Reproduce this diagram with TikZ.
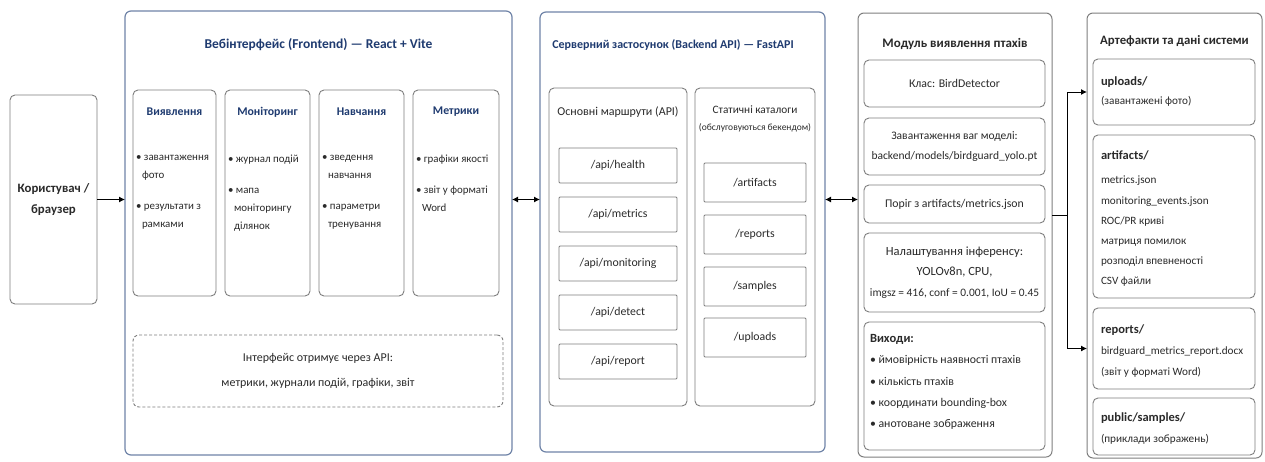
\documentclass[tikz,border=0pt]{standalone}
\usepackage{fontspec}
\setmainfont{Carlito}
\usetikzlibrary{arrows.meta}
\definecolor{navy}{HTML}{1F3B70}
\definecolor{txt}{HTML}{2A2A2A}
\definecolor{bluebd}{HTML}{7084A8}
\definecolor{graybd}{HTML}{7E7E7E}
\newcommand\fs[2]{\fontsize{#1pt}{#2pt}\selectfont}
\tikzset{
  outerblue/.style={draw=bluebd, line width=1.2pt, rounded corners=6pt},
  outergray/.style={draw=graybd, line width=1pt, rounded corners=6pt},
  innerbox/.style={draw=graybd, line width=0.9pt, rounded corners=5pt},
  routebox/.style={draw=graybd, line width=0.9pt, rounded corners=1pt, font=\fs{11.8}{14}},
  dashbox/.style={draw=graybd, line width=0.9pt, dash pattern=on 3pt off 2pt, rounded corners=6pt},
  navytitle/.style={font=\bfseries\fs{13.5}{16}, text=navy},
  fhead/.style={font=\bfseries\fs{11.8}{14}, text=navy},
  bullist/.style={anchor=north west, align=left, font=\fs{10.9}{18}},
  arthead/.style={anchor=west, font=\bfseries\fs{12.5}{15}},
  artlist/.style={anchor=west, align=left, font=\fs{11.2}{20.2}},
  conn/.style={line width=1pt, draw=black},
  arr/.style={conn, -{Latex[length=6pt,width=6pt]}},
  arrb/.style={conn, {Latex[length=6pt,width=6pt]}-{Latex[length=6pt,width=6pt]}},
}
\begin{document}
\begin{tikzpicture}[x=1pt,y=-1pt, every node/.style={inner sep=0pt, outer sep=0pt, text=txt}]
\useasboundingbox (0,0) rectangle (1265,461);
\fill[white] (0,0) rectangle (1265,461);

% user
\node[innerbox, minimum width=87pt, minimum height=209pt, align=center, font=\bfseries\fs{12.8}{21}] (user) at (53.5,199.5) {Користувач /\\браузер};

% frontend
\node[outerblue, minimum width=387pt, minimum height=444pt] (fe) at (318.5,233) {};
\node[navytitle] (fetitle) at (318.5,45) {Вебінтерфейс (Frontend) — React + Vite};
\node[innerbox, minimum width=83pt, minimum height=206pt] (f1) at (174.5,193) {};
\node[innerbox, minimum width=85pt, minimum height=206pt] (f2) at (267.5,193) {};
\node[innerbox, minimum width=85pt, minimum height=206pt] (f3) at (361.5,193) {};
\node[innerbox, minimum width=86pt, minimum height=206pt] (f4) at (456,193) {};
\node[fhead] (f1h) at (174.5,112) {Виявлення};
\node[fhead] (f2h) at (267.5,112) {Моніторинг};
\node[fhead] (f3h) at (361.5,112) {Навчання};
\node[fhead] (f4h) at (456,112) {Метрики};
\node[bullist] (f1l) at (136,155) {• завантаження\\\hspace*{6pt}фото\\[13pt]• результати з\\\hspace*{6pt}рамками};
\node[bullist] (f2l) at (228,155) {• журнал подій\\[13pt]• мапа\\\hspace*{6pt}моніторингу\\\hspace*{6pt}ділянок};
\node[bullist] (f3l) at (322,155) {• зведення\\\hspace*{6pt}навчання\\[13pt]• параметри\\\hspace*{6pt}тренування};
\node[bullist] (f4l) at (416,155) {• графіки якості\\[13pt]• звіт у форматі\\\hspace*{6pt}Word};
\node[dashbox, minimum width=370pt, minimum height=72pt, align=center, font=\fs{12}{24.5}] (api) at (318,371) {Інтерфейс отримує через API:\\метрики, журнали подій, графіки, звіт};

% backend
\node[outerblue, minimum width=285pt, minimum height=440pt] (be) at (682.5,232) {};
\node[navytitle, font=\bfseries\fs{12}{14}] (betitle) at (673,45) {Серверний застосунок (Backend API) — FastAPI};
\node[innerbox, minimum width=138pt, minimum height=318pt] (routes) at (618,247) {};
\node[font=\fs{12}{14}] (routesh) at (618,112) {Основні маршрути (API)};
\node[routebox, minimum width=118pt, minimum height=35pt] (r1) at (618,165.5) {/api/health};
\node[routebox, minimum width=118pt, minimum height=35pt] (r2) at (618,214.5) {/api/metrics};
\node[routebox, minimum width=118pt, minimum height=35pt] (r3) at (618,263.5) {/api/monitoring};
\node[routebox, minimum width=118pt, minimum height=35pt] (r4) at (618,312.5) {/api/detect};
\node[routebox, minimum width=118pt, minimum height=35pt] (r5) at (618,361.5) {/api/report};
\node[innerbox, minimum width=120pt, minimum height=318pt] (static) at (755,247) {};
\node[font=\fs{11.3}{13}] (statich) at (755,110) {Статичні каталоги};
\node[font=\fs{9.5}{11}] (statich2) at (755,128) {(обслуговуються бекендом)};
\node[routebox, minimum width=102pt, minimum height=39pt] (s1) at (755,182.5) {/artifacts};
\node[routebox, minimum width=102pt, minimum height=39pt] (s2) at (755,234.5) {/reports};
\node[routebox, minimum width=102pt, minimum height=39pt] (s3) at (755,286.5) {/samples};
\node[routebox, minimum width=102pt, minimum height=39pt] (s4) at (755,337.5) {/uploads};

% bird module
\node[outergray, minimum width=194pt, minimum height=444pt] (bird) at (955,235) {};
\node[font=\bfseries\fs{13}{15}] (birdt) at (955,44) {Модуль виявлення птахів};
\node[innerbox, minimum width=181pt, minimum height=47pt, font=\fs{11.8}{14}] (cls) at (954.5,83.5) {Клас: BirdDetector};
\node[innerbox, minimum width=181pt, minimum height=57pt, align=center, font=\fs{11.5}{20.5}] (wts) at (954.5,146.5) {Завантаження ваг моделі:\\backend/models/birdguard\_yolo.pt};
\node[innerbox, minimum width=181pt, minimum height=38pt, font=\fs{11.8}{14}] (thr) at (954.5,204) {Поріг з artifacts/metrics.json};
\node[innerbox, minimum width=181pt, minimum height=79pt, align=center, font=\fs{12.5}{20.5}] (inf) at (954.5,272.5) {Налаштування інференсу:\\YOLOv8n, CPU,\\{\fs{11.4}{20.5}imgsz = 416, conf = 0.001, IoU = 0.45}};
\node[innerbox, minimum width=181pt, minimum height=128pt] (out) at (954.5,386) {};
\node[anchor=west, align=left, font=\fs{11.8}{21.3}] (outl) at (870,382) {{\bfseries\fs{12.5}{21.3}Виходи:}\\• ймовірність наявності птахів\\• кількість птахів\\• координати bounding-box\\• анотоване зображення};

% artifacts
\node[outergray, minimum width=175pt, minimum height=445pt] (art) at (1174.5,235.5) {};
\node[font=\bfseries\fs{12.8}{15}] (artt) at (1174.5,41) {Артефакти та дані системи};
\node[innerbox, minimum width=162pt, minimum height=66pt] (up) at (1174,92) {};
\node[arthead] (uph) at (1101,82) {uploads/};
\node[artlist] (upl) at (1101,101) {(завантажені фото)};
\node[innerbox, minimum width=162pt, minimum height=163pt] (arf) at (1174,216.5) {};
\node[arthead] (arfh) at (1101,155) {artifacts/};
\node[artlist] (arfl) at (1101,231.5) {metrics.json\\monitoring\_events.json\\ROC/PR криві\\матриця помилок\\розподіл впевненості\\CSV файли};
\node[innerbox, minimum width=162pt, minimum height=81pt] (rep) at (1174,348.5) {};
\node[arthead] (reph) at (1101,330) {reports/};
\node[artlist] (repl) at (1101,362) {birdguard\_metrics\_report.docx\\(звіт у форматі Word)};
\node[innerbox, minimum width=162pt, minimum height=57pt] (pub) at (1174,426.5) {};
\node[arthead] (pubh) at (1101,418) {public/samples/};
\node[artlist] (publ) at (1101,439) {(приклади зображень)};

% connectors
\draw[arr] (user.east) -- (user.east -| fe.west);
\draw[arrb] (fe.east |- user.east) -- (be.west |- user.east);
\draw[arrb] (be.east |- user.east) -- (bird.west |- user.east);
\coordinate (split) at (1067,215);
\draw[conn] (bird.east |- split) -- (split);
\draw[arr] (split) |- (up.west -| art.west);
\draw[arr] (split) |- (rep.west -| art.west);
\end{tikzpicture}
\end{document}
